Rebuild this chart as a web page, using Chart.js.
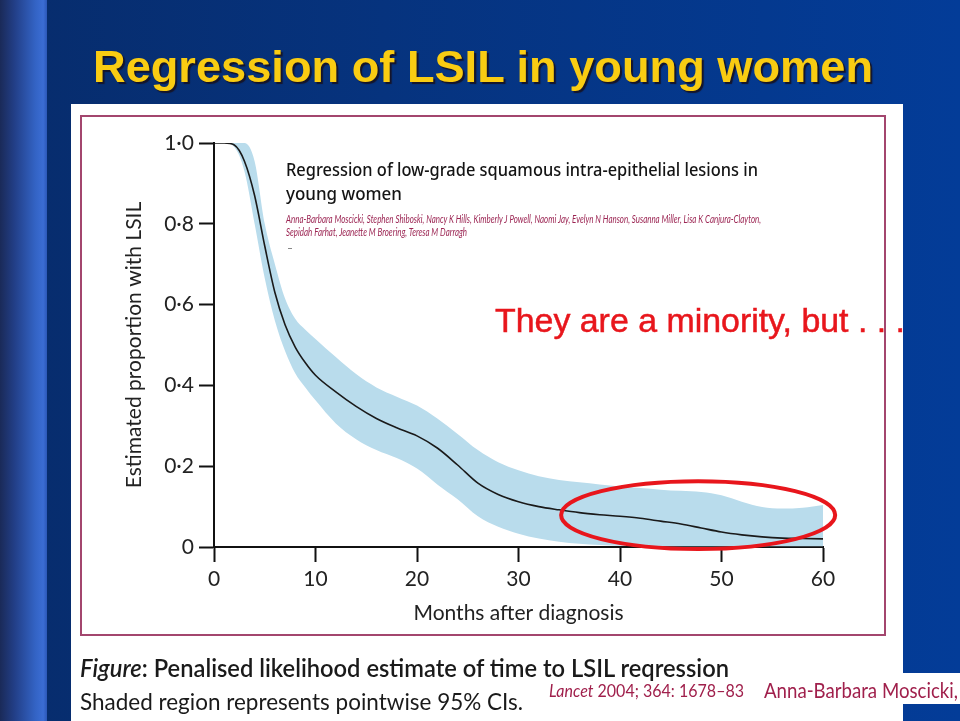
<!DOCTYPE html>
<html><head><meta charset="utf-8">
<script src="https://cdn.jsdelivr.net/npm/chart.js@4.4.1/dist/chart.umd.min.js"></script>
<style>
html,body{margin:0;padding:0;width:960px;height:721px;overflow:hidden;}
body{position:relative;background:linear-gradient(90deg,#072c6c 0%,#06337e 40%,#033c98 100%);}
#stripe{position:absolute;left:0;top:0;width:47px;height:721px;background:linear-gradient(90deg,#1a2a58 0%,#223e86 30%,#3363c4 75%,#3b6dd4 92%,#2c58b8 100%);}
#panel{position:absolute;left:71px;top:104px;width:832px;height:617px;background:#fff;}
#frame{position:absolute;left:80px;top:115px;width:802px;height:517px;border:2px solid #a3466e;}
#wbox{position:absolute;left:900px;top:673px;width:60px;height:31px;background:#fff;}
#dash{position:absolute;left:288px;top:248px;width:4px;height:1px;background:#888;}
.t{position:absolute;white-space:nowrap;transform-origin:0 50%;line-height:1;}
canvas{position:absolute;left:0;top:0;}
</style></head>
<body>
<div id="stripe"></div>
<div id="panel"></div>
<div id="frame"></div>
<div id="wbox"></div>
<div id="dash"></div>
<canvas id="c" width="960" height="721"></canvas>

<div class="t" data-w="780" style="left:93px;top:41px;font:bold 45px 'Liberation Sans',Arial,sans-serif;color:#f9cc12;text-shadow:2px 2px 1px #15152a;">Regression of LSIL in young women</div>

<div class="t" data-w="472" style="left:286px;top:157px;font:500 18px 'Noto Sans',sans-serif;color:#141414;">Regression of low-grade squamous intra-epithelial lesions in</div>
<div class="t" data-w="116" style="left:286px;top:181px;font:500 18px 'Noto Sans',sans-serif;color:#141414;">young women</div>
<div class="t" data-w="475" style="left:286px;top:212px;font:italic 11px Lato,sans-serif;color:#9b2452;">Anna-Barbara Moscicki, Stephen Shiboski, Nancy K Hills, Kimberly J Powell, Naomi Jay, Evelyn N Hanson, Susanna Miller, Lisa K Canjura-Clayton,</div>
<div class="t" data-w="181" style="left:286px;top:225px;font:italic 11px Lato,sans-serif;color:#9b2452;">Sepidah Farhat, Jeanette M Broering, Teresa M Darragh</div>

<div class="t" data-w="410" style="left:495px;top:302px;font:33px 'Liberation Sans',Arial,sans-serif;color:#e8161c;-webkit-text-stroke:0.5px #e8161c;">They are a minority, but . . .</div>

<div class="t" data-w="649" style="left:80px;top:652px;font:600 25px Lato,sans-serif;color:#1a1a1a;"><i>Figure</i>: Penalised likelihood estimate of time to LSIL reqression</div>
<div class="t" data-w="443" style="left:80px;top:686px;font:24px Lato,sans-serif;color:#1a1a1a;">Shaded region represents pointwise 95% CIs.</div>
<div class="t" data-w="195" style="left:549px;top:680px;font:17px Lato,sans-serif;color:#a0204c;"><i>Lancet</i> 2004; 364: 1678–83</div>
<div class="t" data-w="194" style="left:764px;top:677px;font:21px Lato,sans-serif;color:#a0204c;">Anna-Barbara Moscicki,</div>

<script>
// ---- data ----
const months = [0,1,2,3,4,5,6,7,8,9,10,12,14,16,18,20,22,24,26,28,30,32,34,36,38,40,42,44,46,48,50,52,54,56,58,60];
const estimate = [1.0,1.0,0.995,0.955,0.87,0.745,0.63,0.55,0.495,0.456,0.425,0.384,0.348,0.318,0.295,0.275,0.245,0.203,0.158,0.13,0.112,0.1,0.092,0.085,0.08,0.076,0.071,0.064,0.057,0.047,0.037,0.03,0.025,0.022,0.021,0.02];
const upperCI = [1.0,1.0,1.0,1.0,0.955,0.80,0.70,0.615,0.565,0.538,0.515,0.47,0.428,0.395,0.372,0.35,0.318,0.28,0.24,0.21,0.19,0.175,0.166,0.16,0.155,0.15,0.146,0.142,0.139,0.136,0.128,0.112,0.099,0.095,0.097,0.104];
const lowerCI = [1.0,1.0,0.99,0.93,0.80,0.665,0.56,0.485,0.43,0.395,0.363,0.306,0.267,0.24,0.22,0.194,0.155,0.118,0.076,0.05,0.033,0.021,0.013,0.008,0.005,0.003,0.002,0.002,0.002,0.002,0.002,0.002,0.002,0.002,0.002,0.002];
const xTickLabels = ['0','10','20','30','40','50','60'];
const yTickLabels = ['0','0·2','0·4','0·6','0·8','1·0'];
// highlighted region (data units): centre month, centre proportion, half-width months, half-height proportion
const highlight = {month:47.7, value:0.079, rMonths:13.5, rValue:0.084};

const pts = arr => months.map((m,i)=>({x:m,y:arr[i]}));

const ellipsePlugin = {
  id:'ellipse',
  afterDatasetsDraw(chart){
    const {ctx, scales:{x,y}} = chart;
    const cx = x.getPixelForValue(highlight.month);
    const cy = y.getPixelForValue(highlight.value);
    const rx = x.getPixelForValue(highlight.month+highlight.rMonths)-cx;
    const ry = cy - y.getPixelForValue(highlight.value+highlight.rValue);
    ctx.save();
    ctx.beginPath();
    ctx.ellipse(cx,cy,rx,ry,0,0,Math.PI*2);
    ctx.strokeStyle='#e8161c';
    ctx.lineWidth=4;
    ctx.stroke();
    ctx.restore();
  }
};

const tickFont = {family:'Lato', size:21};
new Chart(document.getElementById('c'), {
  type:'line',
  data:{datasets:[
    {data:pts(estimate), borderColor:'#1a1a1a', borderWidth:1.6, pointRadius:0, fill:false, cubicInterpolationMode:'monotone'},
    {data:pts(upperCI), borderWidth:0, borderColor:'rgba(0,0,0,0)', pointRadius:0, fill:'+1', backgroundColor:'#b9dcec', cubicInterpolationMode:'monotone'},
    {data:pts(lowerCI), borderWidth:0, borderColor:'rgba(0,0,0,0)', pointRadius:0, fill:false, cubicInterpolationMode:'monotone'}
  ]},
  options:{
    responsive:false, animation:false, devicePixelRatio:1,
    layout:{padding:{left:122, top:143, right:137, bottom:95}},
    plugins:{legend:{display:false}, tooltip:{enabled:false}},
    scales:{
      x:{type:'linear', min:0, max:60,
        ticks:{stepSize:10, padding:5, color:'#222', font:tickFont, maxRotation:0, autoSkip:false, callback:(v,i)=>xTickLabels[i]},
        grid:{drawOnChartArea:false, drawTicks:true, tickLength:15, tickColor:'#111', tickWidth:2},
        border:{display:true, color:'#111', width:2},
        title:{display:true, text:'Months after diagnosis', color:'#222', font:{family:'Lato', size:21}, padding:0},
        afterFit:s=>{s.height=79;}
      },
      y:{type:'linear', min:0, max:1,
        ticks:{stepSize:0.2, padding:5, color:'#222', font:tickFont, callback:(v,i)=>yTickLabels[i]},
        grid:{drawOnChartArea:false, drawTicks:true, tickLength:15, tickColor:'#111', tickWidth:2},
        border:{display:true, color:'#111', width:2},
        title:{display:true, text:'Estimated proportion with LSIL', color:'#222', font:{family:'Lato', size:21}, padding:0},
        afterFit:s=>{s.width=92;}
      }
    }
  },
  plugins:[ellipsePlugin]
});

function fit(){
  document.querySelectorAll('.t[data-w]').forEach(el=>{
    el.style.transform='none';
    const w = el.getBoundingClientRect().width;
    const target = parseFloat(el.dataset.w);
    el.style.transform='scaleX('+(target/w)+')';
  });
}
fit();
if (document.fonts && document.fonts.ready) document.fonts.ready.then(fit);
</script>
</body></html>
